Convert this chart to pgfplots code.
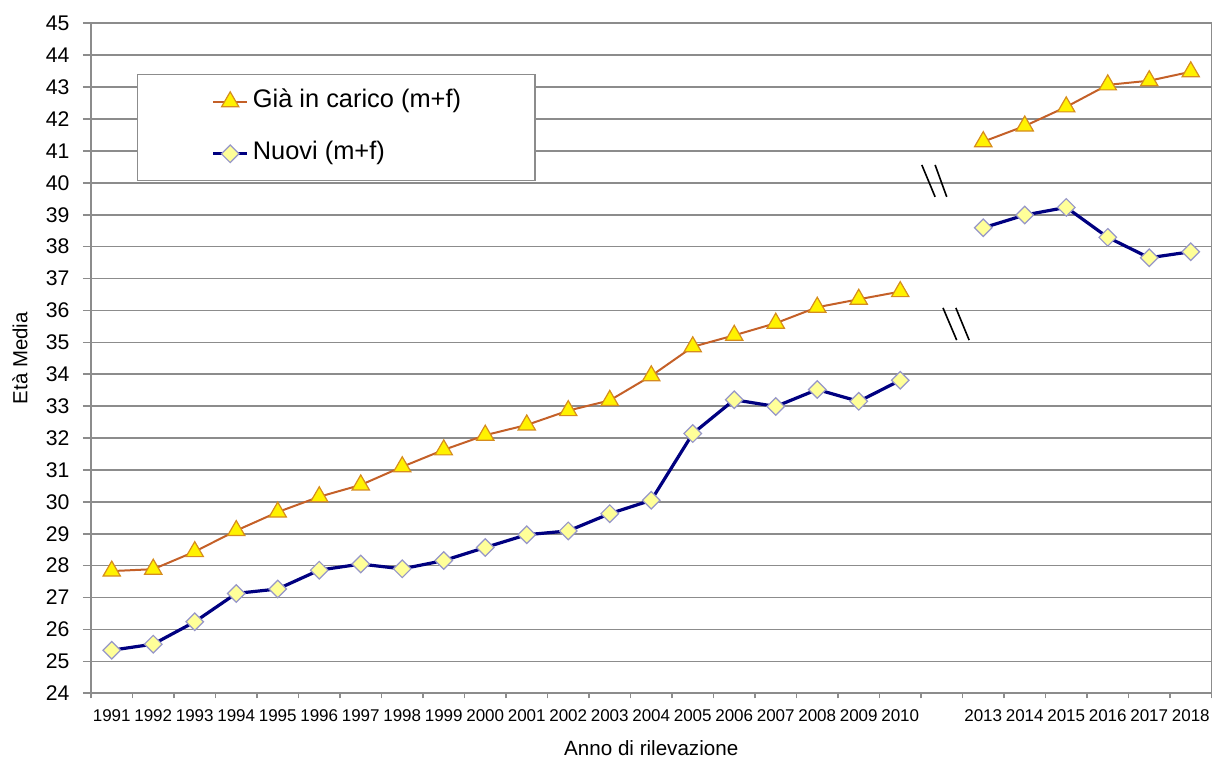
\documentclass[border=0pt]{standalone}
\usepackage{fontspec}
\setmainfont{Liberation Sans}
\usepackage{pgfplots}
\pgfplotsset{compat=1.18}

\definecolor{gridgray}{RGB}{140,140,140}
\definecolor{caricoline}{RGB}{196,96,40}
\definecolor{caricoedge}{RGB}{214,140,30}
\definecolor{nuoviline}{RGB}{0,0,128}
\definecolor{nuovifill}{RGB}{255,255,153}
\definecolor{nuoviedge}{RGB}{150,150,200}

% x = category index; 21 is the empty slot between 2010 and 2013
\pgfplotstableread{
x  y
1  27.83
2  27.89
3  28.44
4  29.10
5  29.68
6  30.16
7  30.53
8  31.10
9  31.63
10 32.09
11 32.41
12 32.86
13 33.18
14 33.95
15 34.86
16 35.22
17 35.60
18 36.10
19 36.35
20 36.59
21 nan
22 41.29
23 41.78
24 42.38
25 43.07
26 43.20
27 43.48
}\carico

\pgfplotstableread{
x  y
1  25.35
2  25.54
3  26.24
4  27.13
5  27.27
6  27.86
7  28.05
8  27.90
9  28.16
10 28.57
11 28.97
12 29.09
13 29.63
14 30.05
15 32.14
16 33.20
17 32.99
18 33.52
19 33.15
20 33.81
21 nan
22 38.59
23 38.99
24 39.23
25 38.29
26 37.65
27 37.84
}\nuovi

\begin{document}
\begin{tikzpicture}
\begin{axis}[
    at={(0,0)}, anchor=south west,
    scale only axis,
    width=560.25pt, height=335pt,
    xmin=0.5, xmax=27.5,
    ymin=24, ymax=45,
    xtick={1,...,27},
    xticklabels={1991,1992,1993,1994,1995,1996,1997,1998,1999,2000,2001,2002,2003,2004,2005,2006,2007,2008,2009,2010,,2013,2014,2015,2016,2017,2018},
    minor xtick={0.5,1.5,...,27.5},
    ytick={24,25,...,45},
    xtick pos=bottom, ytick pos=left,
    tick align=outside,
    major tick length=4pt,
    minor tick length=2.5pt,
    x tick style={draw=none},
    minor x tick style={draw=gridgray, line width=0.8pt},
    y tick style={gridgray, line width=0.8pt},
    ymajorgrids,
    grid style={gridgray, line width=0.8pt},
    axis line style={gridgray, line width=0.8pt},
    /pgf/number format/assume math mode=true,
    xticklabel style={font=\fontsize{8.5}{9}\selectfont, yshift=-0.8pt},
    yticklabel style={font=\fontsize{10.6}{12}\selectfont, xshift=-3.3pt},
    xlabel={Anno di rilevazione},
    ylabel={Età Media},
    xlabel style={font=\fontsize{10.3}{12}\selectfont, at={(axis description cs:0.5,0)}, anchor=north, yshift=-20pt},
    ylabel style={font=\fontsize{10.2}{12}\selectfont, at={(axis description cs:0,0.5)}, anchor=center, yshift=35.5pt},
    unbounded coords=jump,
    legend cell align=left,
    legend style={
        at={(rel axis cs:0.041,0.924)}, anchor=north west,
        draw=gridgray, line width=0.6pt, fill=white,
        font=\fontsize{12.7}{14}\selectfont,
        inner xsep=37pt, inner ysep=7.5pt,
        row sep=14pt, column sep=2pt,
        nodes={inner sep=0pt, text height=9pt, text depth=3pt},
    },
]
\addplot[color=caricoline, line width=1pt, mark=triangle*, mark size=5pt,
    mark options={fill=yellow, draw=caricoedge, line width=0.6pt}]
    table[x=x, y=y] {\carico};
\addlegendentry{Già in carico (m+f)}
\addplot[color=nuoviline, line width=1.6pt, mark=square*, mark size=3.1pt,
    mark options={rotate=45, fill=nuovifill, draw=nuoviedge, line width=0.6pt}]
    table[x=x, y=y] {\nuovi};
\addlegendentry{Nuovi (m+f)}

% axis break marks
\draw[black, line width=0.8pt] (axis cs:20.52,40.56) -- (axis cs:20.84,39.56);
\draw[black, line width=0.8pt] (axis cs:20.84,40.56) -- (axis cs:21.12,39.56);
\draw[black, line width=0.8pt] (axis cs:21.03,36.08) -- (axis cs:21.36,35.07);
\draw[black, line width=0.8pt] (axis cs:21.34,36.08) -- (axis cs:21.66,35.07);
\end{axis}
\pgfresetboundingbox
\path (-45.5pt,-32.35pt) rectangle (560.5pt,346.65pt);
\end{tikzpicture}
\end{document}
